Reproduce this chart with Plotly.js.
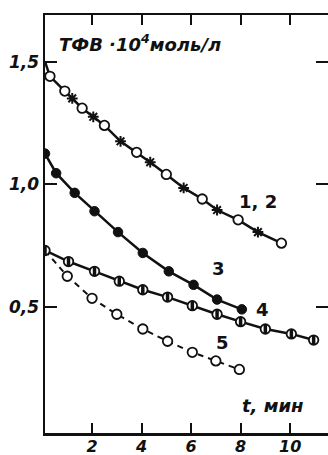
<!DOCTYPE html>
<html><head><meta charset="utf-8">
<script src="https://cdn.plot.ly/plotly-3.0.1.min.js"></script>
<style>html,body{margin:0;padding:0;overflow:hidden;background:#fff}#c{width:328px;height:455px}</style>
</head><body><div id="c"></div>
<script>
// Curve 1,2 : open circles (1) and stars (2) on one line
const t12_start = [0.1];
const v12_start = [1.5];
const t12_open = [0.3, 0.9, 1.6, 2.5, 3.8, 5.0, 6.45, 7.9, 9.65];
const v12_open = [1.44, 1.38, 1.31, 1.24, 1.13, 1.04, 0.94, 0.855, 0.76];
const t12_star = [1.2, 2.05, 3.15, 4.35, 5.7, 7.05, 8.7];
const v12_star = [1.35, 1.275, 1.175, 1.09, 0.985, 0.895, 0.805];
// Curve 3 : filled circles
const t3 = [0.1, 0.55, 1.3, 2.1, 3.05, 4.05, 5.1, 6.1, 7.05, 8.05];
const v3 = [1.125, 1.045, 0.965, 0.89, 0.805, 0.72, 0.645, 0.59, 0.53, 0.49];
// Curve 4 : half-filled circles
const t4 = [0.1, 1.05, 2.1, 3.1, 4.05, 5.05, 6.05, 7.05, 8.0, 9.0, 10.05, 10.95];
const v4 = [0.73, 0.685, 0.645, 0.605, 0.57, 0.54, 0.505, 0.47, 0.44, 0.41, 0.39, 0.365];
// Curve 5 : open circles, dashed
const t5 = [0.1, 1.0, 2.0, 3.0, 4.05, 5.05, 6.05, 7.0, 7.95];
const v5 = [0.73, 0.625, 0.535, 0.47, 0.41, 0.36, 0.315, 0.28, 0.245];
// axis ticks
const xTicks = [2, 4, 6, 8, 10];
const yTicks = [0.5, 1.0, 1.5];
const curveLabels = ["1, 2", "3", "4", "5"];
const curveLabelT = [8.7, 7.1, 8.87, 7.25];
const curveLabelV = [0.93, 0.658, 0.491, 0.356];

const FONT = "DejaVu Sans, Liberation Sans, sans-serif";
const K = "#111";

// merged line for 1,2
const pts12 = t12_start.map((t,i)=>[t, v12_start[i]])
  .concat(t12_open.map((t,i)=>[t, v12_open[i]]))
  .concat(t12_star.map((t,i)=>[t, v12_star[i]]))
  .sort((a,b)=>a[0]-b[0]);

const traces = [
  {x: pts12.map(p=>p[0]), y: pts12.map(p=>p[1]), mode:'lines', line:{color:K, width:2.5}, hoverinfo:'skip'},
  {x: t12_open, y: v12_open, mode:'markers', marker:{symbol:'circle', size:9.5, color:'#fff', line:{color:K, width:1.8}}},
  {x: t12_star, y: v12_star, mode:'markers', marker:{symbol:'asterisk-open', size:9, color:K, line:{color:K, width:2}}},
  {x: t3, y: v3, mode:'lines+markers', line:{color:K, width:2.5}, marker:{symbol:'circle', size:9.5, color:K, line:{color:K, width:1}}},
  {x: t5, y: v5, mode:'lines', line:{color:K, width:2, dash:'6px,5px'}},
  {x: t5.slice(1), y: v5.slice(1), mode:'markers', marker:{symbol:'circle', size:9.5, color:'#fff', line:{color:K, width:1.8}}},
  {x: t4, y: v4, mode:'lines+markers', line:{color:K, width:2.5}, marker:{symbol:'circle', size:9.5, color:'#fff', line:{color:K, width:1.8}}},
  {x: t4, y: v4, mode:'markers', marker:{symbol:'line-ns', size:7, color:K, line:{color:K, width:3.5}}}
];

const annotations = curveLabels.map((s,i)=>({
  x: curveLabelT[i], y: curveLabelV[i], xref:'x', yref:'y', text: s, showarrow:false,
  font:{family:FONT, size:18, color:K, weight:'bold'}, xanchor:'center', yanchor:'middle'
}));
annotations.push({x:0.6, y:1.575, xref:'x', yref:'y', xanchor:'left', yanchor:'middle', showarrow:false,
  text:'ТФВ ·10<sup>4</sup>моль/л', font:{family:FONT, size:18, color:K, style:'italic', weight:'bold'}});
annotations.push({x:9.28, y:0.098, xref:'x', yref:'y', xanchor:'center', yanchor:'middle', showarrow:false,
  text:'t, мин', font:{family:FONT, size:18, color:K, style:'italic', weight:'bold'}});

const layout = {
  width: 328, height: 455,
  margin: {l:45, r:0, t:15, b:22, pad:0},
  paper_bgcolor:'#fff', plot_bgcolor:'#fff',
  showlegend:false,
  separators: ', ',
  font:{family:FONT, color:K},
  xaxis:{range:[0.1, 11.53], tickvals:xTicks, ticks:'inside', ticklen:10, tickwidth:2, tickcolor:K,
    showline:true, linewidth:2.5, linecolor:K, mirror:'ticks', showgrid:false, zeroline:false,
    ticklabelstandoff:-3,
    tickfont:{family:FONT, size:16, color:K, style:'italic', weight:'bold'}},
  yaxis:{range:[-0.014, 1.69], tickvals:yTicks, tickformat:'.1f', ticks:'inside', ticklen:12, tickwidth:2, tickcolor:K,
    showline:true, linewidth:2.5, linecolor:K, mirror:'ticks', showgrid:false, zeroline:false,
    tickfont:{family:FONT, size:17, color:K, style:'italic', weight:'bold'}},
  annotations: annotations
};

Plotly.newPlot('c', traces, layout, {staticPlot:true, displayModeBar:false});
</script></body></html>
